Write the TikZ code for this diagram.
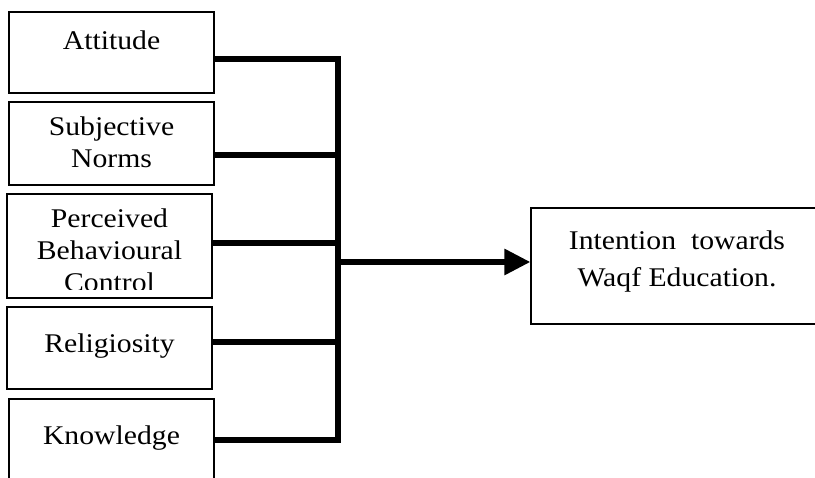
\documentclass[tikz,border=0pt]{standalone}
\usepackage{fontspec}
\setmainfont{Liberation Serif}[FakeStretch=1.1]
\usetikzlibrary{arrows.meta}
\tikzset{
  factor/.style={draw=black, line width=1.2pt, rectangle, inner sep=0pt,
    minimum width=205pt},
  lbl/.style={inner sep=0pt, align=center, font=\fontsize{27}{32}\selectfont},
  link/.style={line width=6pt, line join=miter}
}
\begin{document}
\begin{tikzpicture}[x=1pt,y=-1pt]
\useasboundingbox (0,0) rectangle (815,478);
\clip (0,0) rectangle (815,478);

% factor boxes
\node[factor, minimum height=81pt] (att) at (111.5,52.5) {};
\node[factor, minimum height=83pt] (sub) at (111.5,143.5) {};
\node[factor, minimum height=104pt] (pbc) at (109.5,246) {};
\node[factor, minimum height=82pt] (rel) at (109.5,348) {};
\node[factor, minimum height=100pt] (kno) at (111.5,449) {};
% outcome box
\node[draw=black, line width=1.2pt, rectangle, inner sep=0pt,
  minimum width=300pt, minimum height=116pt] (int) at (681,266) {};

% labels (base anchor = baseline of the last line)
\node[lbl, anchor=base] (attT) at (111.5,50) {Attitude};
\node[lbl, anchor=base] (subT) at (111.5,168) {Subjective\\Norms};
\begin{scope}
  \clip (8,195) rectangle (211,290);
  \node[lbl, anchor=base] (pbcT) at (109.5,292) {Perceived\\Behavioural\\Control};
\end{scope}
\node[lbl, anchor=base] (relT) at (109.5,353) {Religiosity};
\node[lbl, anchor=base] (knoT) at (111.5,445) {Knowledge};
\node[lbl, anchor=base, font=\fontsize{27}{37}\selectfont] (intT) at (677,287)
  {Intention~ towards\\Waqf Education.};

% collector bar and feeders
\coordinate (top) at (338,59);
\coordinate (bot) at (338,440);
\coordinate (mid) at (338,262);
\coordinate (jsub) at (338,155);
\coordinate (jpbc) at (338,243);
\coordinate (jrel) at (338,342);
\draw[link] ([yshift=-6.5pt]att.east) -- (top) -- (bot) -- ([yshift=9pt]kno.east);
\draw[link] ([yshift=-11.5pt]sub.east) -- (jsub);
\draw[link] ([yshift=3pt]pbc.east) -- (jpbc);
\draw[link] ([yshift=6pt]rel.east) -- (jrel);
\draw[link, -{Triangle[length=26pt,width=25pt]}] (mid) -- (mid -| int.west);
\end{tikzpicture}
\end{document}
